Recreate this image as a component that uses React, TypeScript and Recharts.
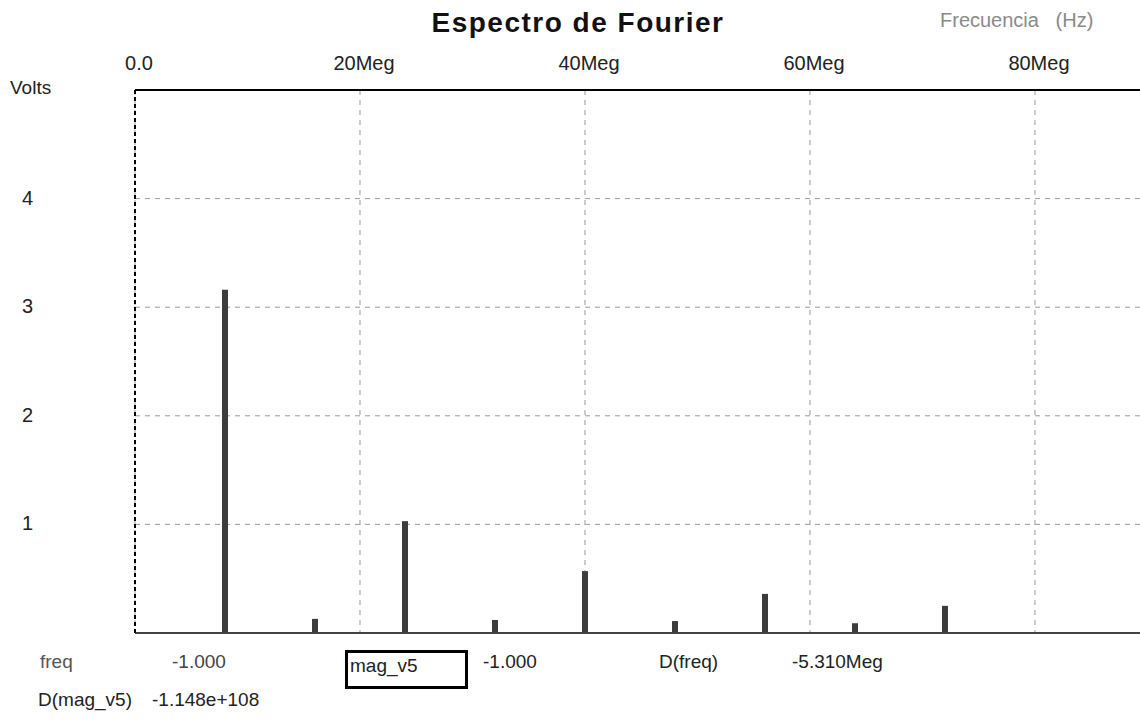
import React from 'react';
import { ComposedChart, Bar, XAxis, YAxis, CartesianGrid, ReferenceLine } from 'recharts';

// frecuencias en Meg (Hz x 1e6) y magnitudes en Volts
const freqs = [8, 16, 24, 32, 40, 48, 56, 64, 72];
const mags = [3.16, 0.13, 1.03, 0.12, 0.57, 0.11, 0.36, 0.09, 0.25];
const xTicks = [0, 20, 40, 60, 80];
const xTickLabels = ['0.0', '20Meg', '40Meg', '60Meg', '80Meg'];
const yTicks = [1, 2, 3, 4];

const data = freqs.map((f, i) => ({ freq: f, mag: mags[i] }));

const FONT = '"Liberation Sans", Arial, sans-serif';

const YTick = ({ y, payload }: any) => (
  <text x={22} y={y} dy={6} fontSize={20} fill="#222" fontFamily={FONT}>
    {payload.value}
  </text>
);

const XTick = ({ x, y, payload }: any) => (
  <text x={x + 4} y={y - 12} textAnchor="middle" fontSize={20} fill="#222" fontFamily={FONT}>
    {xTickLabels[xTicks.indexOf(payload.value)]}
  </text>
);

const label = (text: string, left: number, top: number, color = '#222', size = 19): React.ReactNode => (
  <div
    style={{
      position: 'absolute',
      left,
      top,
      fontFamily: FONT,
      fontSize: size,
      color,
      whiteSpace: 'pre',
      lineHeight: '24px',
    }}
  >
    {text}
  </div>
);

export default function App() {
  return (
    <div style={{ position: 'absolute', left: 0, top: 0, width: 1140, height: 725, background: '#fff', overflow: 'hidden' }}>
      <div
        style={{
          position: 'absolute',
          left: 0,
          width: 1156,
          top: 7,
          textAlign: 'center',
          fontFamily: FONT,
          fontWeight: 'bold',
          fontSize: 28,
          letterSpacing: 1.5,
          color: '#111',
        }}
      >
        Espectro de Fourier
      </div>
      {label('Frecuencia   (Hz)', 940, 8, '#8a8a8a', 20)}
      {label('Volts', 10, 76)}

      <ComposedChart
        width={1146}
        height={725}
        data={data}
        margin={{ top: 60, right: 0, bottom: 92, left: 0 }}
      >
        <CartesianGrid stroke="#9a9a9a" strokeDasharray="5 5" />
        <XAxis
          dataKey="freq"
          type="number"
          orientation="top"
          domain={[0, 89.87]}
          ticks={xTicks}
          height={30}
          axisLine={{ stroke: '#000', strokeWidth: 2 }}
          tickLine={false}
          tick={<XTick />}
          allowDataOverflow
        />
        <YAxis
          type="number"
          domain={[0, 5]}
          ticks={yTicks}
          width={135}
          axisLine={{ stroke: '#000', strokeWidth: 2, strokeDasharray: '4 3' }}
          tickLine={false}
          tick={<YTick />}
        />
        <ReferenceLine y={0} stroke="#444" strokeWidth={2} />
        <Bar dataKey="mag" barSize={6} fill="#3c3c3c" isAnimationActive={false} />
      </ComposedChart>

      {label('freq', 40, 650, '#555')}
      {label('-1.000', 172, 650, '#444')}
      <div
        style={{
          position: 'absolute',
          left: 345,
          top: 650,
          width: 117,
          height: 33,
          border: '3px solid #000',
        }}
      />
      {label('mag_v5', 350, 654)}
      {label('-1.000', 483, 650, '#222')}
      {label('D(freq)', 659, 650, '#222')}
      {label('-5.310Meg', 792, 650, '#222')}
      {label('D(mag_v5)', 38, 688, '#222')}
      {label('-1.148e+108', 152, 688, '#222')}
    </div>
  );
}
